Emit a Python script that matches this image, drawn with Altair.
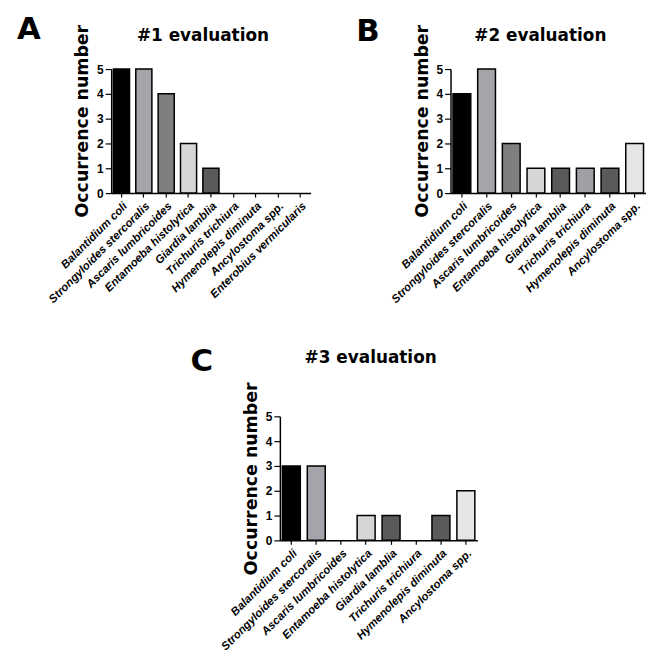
import altair as alt
import pandas as pd

cats_A = ["Balantidium coli", "Strongyloides stercoralis", "Ascaris lumbricoides",
          "Entamoeba histolytica", "Giardia lamblia", "Trichuris trichiura",
          "Hymenolepis diminuta", "Ancylostoma spp.", "Enterobius vermicularis"]
vals_A = [5, 5, 4, 2, 1, 0, 0, 0, 0]

cats_BC = ["Balantidium coli", "Strongyloides stercoralis", "Ascaris lumbricoides",
           "Entamoeba histolytica", "Giardia lamblia", "Trichuris trichiura",
           "Hymenolepis diminuta", "Ancylostoma spp."]
vals_B = [4, 5, 2, 1, 1, 1, 1, 2]
vals_C = [3, 3, 0, 1, 1, 0, 1, 2]

color_cats = cats_A
color_vals = ["#000000", "#a4a4aa", "#7f7f7f", "#d6d6d6", "#5a5a5a",
              "#a0a0a4", "#5a5a5a", "#e6e6e6", "#bbbbbb"]

y_ticks = [0, 1, 2, 3, 4, 5]


def panel(cats, vals, letter, title, width, title_dy, letter_dx, letter_dy, title_y=None):
    df = pd.DataFrame({"species": cats, "count": vals})
    yaxis_kw = dict(title="Occurrence number", values=y_ticks, grid=False,
                    tickSize=6, labelFont="Liberation Sans", labelFontWeight="bold",
                    labelFontSize=12, labelPadding=2,
                    titleFont="DejaVu Sans", titleFontWeight="bold", titleFontSize=17.5,
                    titlePadding=5)
    if title_y is not None:
        yaxis_kw["titleY"] = title_y
    bars = alt.Chart(df).mark_bar(stroke="black").encode(
        x=alt.X("species:N", sort=cats,
                scale=alt.Scale(paddingInner=0.28, paddingOuter=0.1),
                axis=alt.Axis(title=None, labelAngle=-45, labelAlign="right",
                              labelBaseline="top", tickSize=4, labelPadding=3,
                              labelFont="Liberation Sans", labelFontStyle="italic",
                              labelFontWeight="bold", labelFontSize=11.5)),
        y=alt.Y("count:Q", scale=alt.Scale(domain=[0, 5], nice=False),
                axis=alt.Axis(**yaxis_kw)),
        color=alt.Color("species:N", scale=alt.Scale(domain=color_cats, range=color_vals),
                        legend=None),
        strokeWidth=alt.condition(alt.datum.count > 0, alt.value(1.5), alt.value(0)),
    )
    txt = pd.DataFrame({"t": [letter, title],
                        "kind": ["letter", "title"]})
    lab = alt.Chart(txt).transform_filter(alt.datum.kind == "letter").mark_text(
        font="DejaVu Sans", fontWeight="bold", fontSize=31, align="left",
        baseline="alphabetic", color="black"
    ).encode(text="t:N", x=alt.value(letter_dx), y=alt.value(letter_dy))
    ttl = alt.Chart(txt).transform_filter(alt.datum.kind == "title").mark_text(
        font="DejaVu Sans", fontWeight="bold", fontSize=17, align="center",
        baseline="alphabetic", color="black"
    ).encode(text="t:N", x=alt.value(width / 2 - 8), y=alt.value(title_dy))
    return alt.layer(bars, lab, ttl).properties(width=width, height=125)


A = panel(cats_A, vals_A, "A", "#1 evaluation", 201, -28, -95, -30, title_y=52)
B = panel(cats_BC, vals_B, "B", "#2 evaluation", 197, -28, -95, -28, title_y=52)
C = panel(cats_BC, vals_C, "C", "#3 evaluation", 199, -54, -90, -46)

chart = alt.vconcat(
    alt.hconcat(A, B, spacing=46),
    C,
    spacing=41,
    center=True,
).properties(
    padding={"left": 9, "top": 4, "right": 0, "bottom": 0}
).configure_view(strokeWidth=0).configure_axis(
    domainColor="black", tickColor="black", labelColor="black", titleColor="black",
    domainWidth=1.5, tickWidth=1.2
)

chart.save("out.html", embed_options={"renderer": "svg", "actions": False})
